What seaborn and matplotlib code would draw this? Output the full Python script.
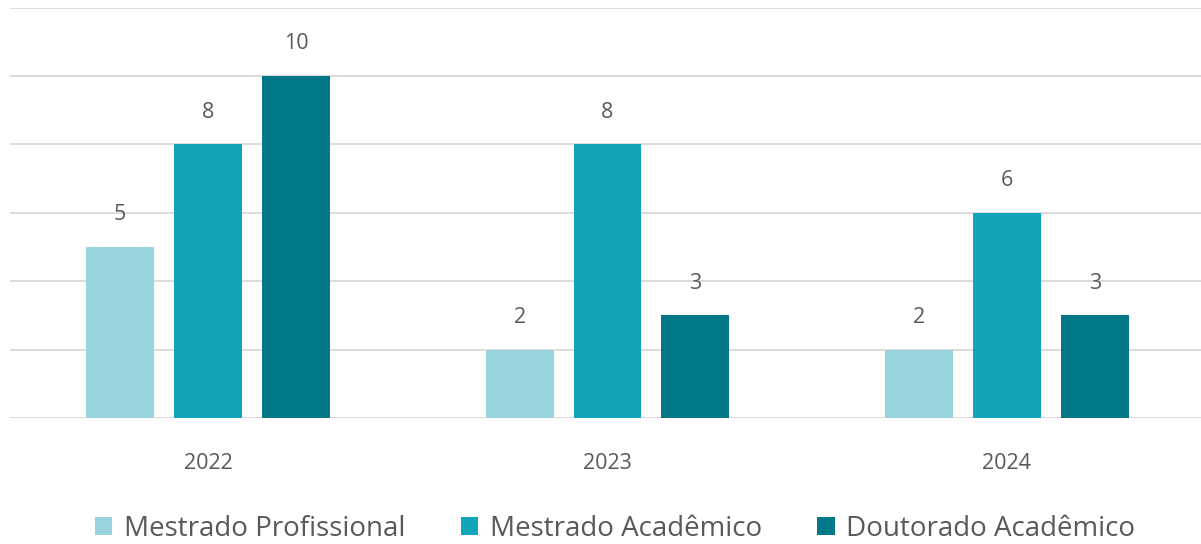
import matplotlib
matplotlib.use("Agg")
import matplotlib.pyplot as plt
from matplotlib.patches import Patch
import seaborn as sns
import pandas as pd

# Number of graduates per year and programme
anos = ["2022", "2023", "2024"]
cursos = ["Mestrado Profissional", "Mestrado Acadêmico", "Doutorado Acadêmico"]
mestrado_profissional = [5, 2, 2]
mestrado_academico = [8, 8, 6]
doutorado_academico = [10, 3, 3]
cores = ["#99D4DE", "#12A5BA", "#017887"]

df = pd.DataFrame({
    "ano": anos * 3,
    "curso": [cursos[0]] * 3 + [cursos[1]] * 3 + [cursos[2]] * 3,
    "valor": mestrado_profissional + mestrado_academico + doutorado_academico,
})

sns.set_theme(style="white")
plt.rcParams["font.family"] = ["Open Sans", "DejaVu Sans"]
texto = "#595959"

fig = plt.figure(figsize=(12.01, 5.44), dpi=100)
ax = fig.add_axes([10 / 1201, 126 / 544, 1191 / 1201, 410.5 / 544])

sns.barplot(data=df, x="ano", y="valor", hue="curso", hue_order=cursos,
            palette=cores, width=0.66, gap=0.227, saturation=1,
            linewidth=0, edgecolor="none",
            legend=False, ax=ax, errorbar=None)

ax.set_ylim(0, 12)
ax.set_xlim(-0.496, 2.486)
ax.set_yticks(range(0, 13, 2))
ax.yaxis.grid(True, color="#D9D9D9", linewidth=1.3)
ax.set_axisbelow(True)
for s in ax.spines.values():
    s.set_visible(False)
ax.tick_params(axis="y", left=False, labelleft=False)
ax.tick_params(axis="x", bottom=False, pad=19, labelsize=15.5, labelcolor=texto)
ax.set_xlabel("")
ax.set_ylabel("")

for cont in ax.containers:
    ax.bar_label(cont, fmt="%d", padding=15.5, fontsize=15.5, color=texto)

handles = [Patch(facecolor=c, edgecolor="none") for c in cores]
fig.legend(handles, cursos, loc="center", bbox_to_anchor=(0.512, 0.028),
           ncol=3, frameon=False, fontsize=20, labelcolor=texto,
           handlelength=0.64, handleheight=0.64, handletextpad=0.4,
           columnspacing=2.0)

fig.savefig("out.png", dpi=100)
